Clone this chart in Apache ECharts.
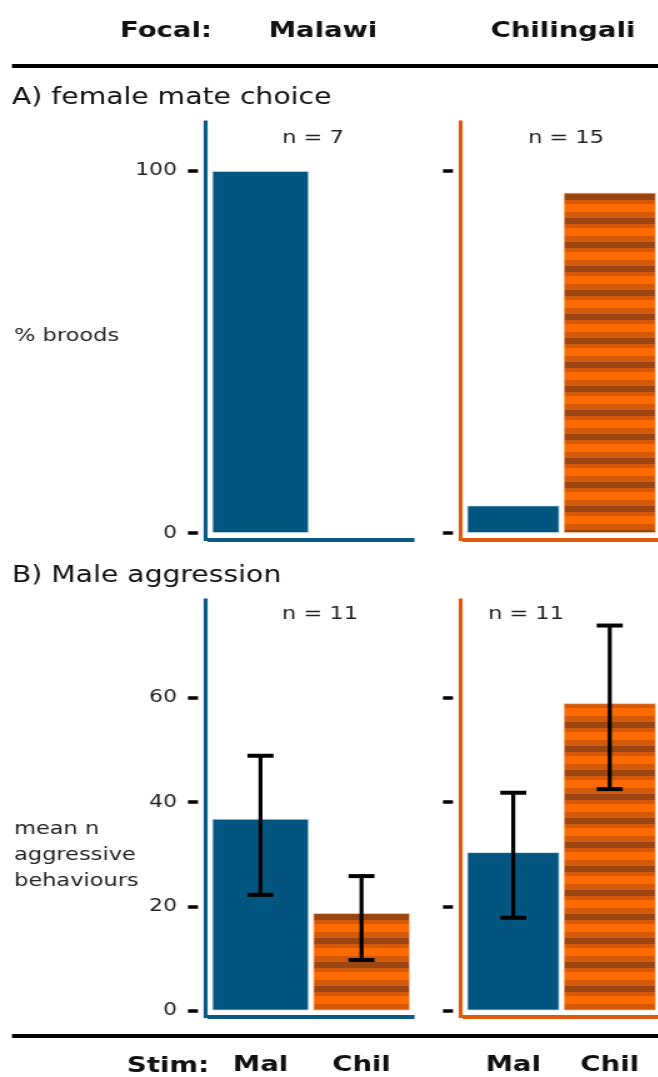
<!DOCTYPE html>
<html>
<head>
<meta charset="utf-8">
<script src="https://cdn.jsdelivr.net/npm/echarts@6/dist/echarts.min.js"></script>
<style>
html,body{margin:0;padding:0;background:#fff;overflow:hidden;}
#wrap{width:526.4px;height:1077px;transform:scaleX(1.25);transform-origin:0 0;}
#main{width:526.4px;height:1077px;}
</style>
</head>
<body>
<div id="wrap"><div id="main"></div></div>
<script>
// ---------------- data ----------------
const stimCategories = ['Mal', 'Chil'];
const focalNames = ['Malawi', 'Chilingali'];
const choicePctMalawi = [100, 0];
const choicePctChilingali = [7.6, 94];
const aggrMeanMalawi = [36.8, 18.7];
const aggrMeanChilingali = [30.4, 59.0];
const aggrLowMalawi = [22.2, 9.7];
const aggrHighMalawi = [48.9, 25.8];
const aggrLowChilingali = [17.8, 42.5];
const aggrHighChilingali = [41.8, 73.9];
const nChoice = [7, 15];
const nAggr = [11, 11];
const choiceTicks = [0, 100];
const aggrTicks = [0, 20, 40, 60];

// ---------------- styles ----------------
const FONT = 'DejaVu Sans';
const BLUE = '#02557f';
const BLUE_LINE = '#0a5a87';
const ORANGE_LINE = '#e05a0c';

function stripeCanvas() {
  const c = document.createElement('canvas');
  c.width = 4; c.height = 24;
  const g = c.getContext('2d');
  const rows = [[0, 2, '#d45a0a'], [2, 6, '#9a4512'], [8, 4, '#d45a0a'], [12, 8, '#ff6a00'], [20, 4, '#d45a0a']];
  rows.forEach(r => { g.fillStyle = r[2]; g.fillRect(0, r[0], 4, r[1]); });
  return c;
}
const STRIPES = { image: stripeCanvas(), repeat: 'repeat' };
const stimFill = [BLUE, STRIPES];
const stimBorder = ['rgba(200,225,240,0.7)', 'rgba(255,200,160,0.7)'];

// grid layout (unscaled coords; page is scaled 1.25x horizontally)
const gridsPx = [
  { left: 168, top: 122, width: 161.6, height: 417.5 },
  { left: 372, top: 122, width: 161.6, height: 417.5 },
  { left: 168, top: 600, width: 161.6, height: 416.5 },
  { left: 372, top: 600, width: 161.6, height: 416.5 }
];
const panelRange = [[-1.8, 113.5], [-1.8, 113.5], [-1.15, 78.8], [-1.15, 78.8]];
const panelTicks = [choiceTicks, choiceTicks, aggrTicks, aggrTicks];
const panelLineColor = [BLUE_LINE, ORANGE_LINE, BLUE_LINE, ORANGE_LINE];
const panelValues = [choicePctMalawi, choicePctChilingali, aggrMeanMalawi, aggrMeanChilingali];

const xAxes = [], yAxes = [], series = [];
for (let g = 0; g < 4; g++) {
  const isB = g >= 2;
  const isLeft = g % 2 === 0;
  xAxes.push({
    type: 'category', gridIndex: g, data: stimCategories, position: 'bottom',
    axisLine: { show: true, onZero: false, lineStyle: { color: panelLineColor[g], width: 4, cap: 'square' } },
    axisTick: { show: false },
    axisLabel: { show: isB, margin: 38, fontSize: 22, fontWeight: 'bold', color: '#111', fontFamily: FONT },
    splitLine: { show: false }
  });
  yAxes.push({
    type: 'value', gridIndex: g, position: 'left', min: panelRange[g][0], max: panelRange[g][1], offset: 3.6,
    axisLine: { show: true, lineStyle: { color: panelLineColor[g], width: 3.2, cap: 'square' } },
    axisTick: { show: false }, axisLabel: { show: false }, splitLine: { show: false }
  });
  yAxes.push({
    type: 'value', gridIndex: g, position: 'left', min: panelRange[g][0], max: panelRange[g][1], offset: 9.6,
    axisLine: { show: false },
    axisTick: { show: true, length: 8, customValues: panelTicks[g], lineStyle: { color: '#000', width: 3.5 } },
    axisLabel: { show: isLeft, customValues: panelTicks[g], margin: 16.8, fontSize: 17.5, color: '#222', fontFamily: FONT },
    splitLine: { show: false }
  });
  series.push({
    type: 'bar', xAxisIndex: g, yAxisIndex: 2 * g, barCategoryGap: '4%',
    data: panelValues[g].map((v, i) => ({
      value: v,
      itemStyle: { color: stimFill[i], borderColor: stimBorder[i], borderWidth: v ? 1 : 0, opacity: v ? 1 : 0 }
    })),
    emphasis: { disabled: true }, silent: true
  });
}

function errorSeries(g, lows, highs) {
  return {
    type: 'custom', xAxisIndex: g, yAxisIndex: 2 * g, z: 10, silent: true,
    data: lows.map((lo, i) => [i, lo, highs[i]]),
    renderItem: function (params, api) {
      const lo = api.coord([api.value(0), api.value(1)]);
      const hi = api.coord([api.value(0), api.value(2)]);
      const hw = 10.4;
      const st = { stroke: '#000', lineWidth: 3.2 };
      const cap = { stroke: '#000', lineWidth: 4 };
      return {
        type: 'group', children: [
          { type: 'line', shape: { x1: lo[0], y1: lo[1], x2: hi[0], y2: hi[1] }, style: st },
          { type: 'line', shape: { x1: hi[0] - hw, y1: hi[1], x2: hi[0] + hw, y2: hi[1] }, style: cap },
          { type: 'line', shape: { x1: lo[0] - hw, y1: lo[1], x2: lo[0] + hw, y2: lo[1] }, style: cap }
        ]
      };
    }
  };
}
series.push(errorSeries(2, aggrLowMalawi, aggrHighMalawi));
series.push(errorSeries(3, aggrLowChilingali, aggrHighChilingali));

function txt(text, x, y, size, bold, align, extra) {
  return {
    type: 'text', x: x, y: y, silent: true,
    style: Object.assign({
      text: text, fontSize: size, fontWeight: bold ? 'bold' : 'normal', fontFamily: FONT,
      fill: '#111', align: align || 'left', verticalAlign: 'middle'
    }, extra || {})
  };
}

const graphics = [
  txt('Focal:', 96, 31, 22, true),
  txt(focalNames[0], 258.4, 31, 22, true, 'center'),
  txt(focalNames[1], 450.4, 31, 22, true, 'center'),
  { type: 'line', silent: true, shape: { x1: 9.6, y1: 66, x2: 526.4, y2: 66 }, style: { stroke: '#000', lineWidth: 4 } },
  txt('A) female mate choice', 9.6, 98, 22.6, false),
  txt('B) Male aggression', 9.6, 576, 22.6, false),
  txt('% broods', 11.2, 336, 18, false, 'left', { fill: '#222' }),
  txt('mean n\naggressive\nbehaviours', 11.2, 855, 18, false, 'left', { fill: '#222', lineHeight: 26 }),
  txt('n = ' + nChoice[0], 250.4, 138, 18, false, 'center', { fill: '#222' }),
  txt('n = ' + nChoice[1], 452.8, 138, 18, false, 'center', { fill: '#222' }),
  txt('n = ' + nAggr[0], 256, 614, 18, false, 'center', { fill: '#222' }),
  txt('n = ' + nAggr[1], 420.8, 614, 18, false, 'center', { fill: '#222' }),
  { type: 'line', silent: true, shape: { x1: 9.6, y1: 1036, x2: 526.4, y2: 1036 }, style: { stroke: '#000', lineWidth: 4 } },
  txt('Stim:', 101.6, 1066, 22, true)
];

const chart = echarts.init(document.getElementById('main'), null, { renderer: 'canvas', width: 526.4, height: 1077 });
chart.setOption({
  animation: false,
  backgroundColor: '#fff',
  grid: gridsPx.map(p => Object.assign({ containLabel: false }, p)),
  xAxis: xAxes,
  yAxis: yAxes,
  series: series,
  graphic: graphics
});
</script>
</body>
</html>
